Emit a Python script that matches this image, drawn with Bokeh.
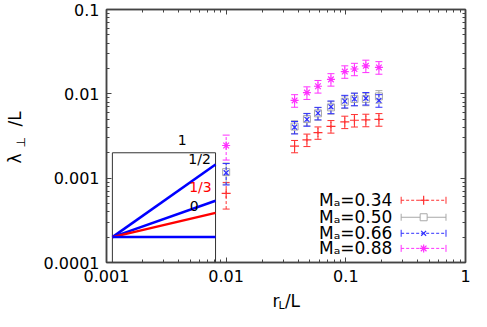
import math
from bokeh.plotting import figure
from bokeh.models import FixedTicker, LogAxis, Label, CustomJSTickFormatter
from bokeh.core.properties import value
from bokeh.embed import file_html
from bokeh.resources import INLINE

# ---------------- data ----------------
r_L = [0.0100, 0.0373, 0.0473, 0.0585, 0.0751, 0.098, 0.118, 0.147, 0.189]

lam_034 = [0.00066, 0.00240, 0.00285, 0.00347, 0.00412, 0.00465, 0.00486, 0.00490, 0.00498]
err_034 = [0.00023, 0.00040, 0.00048, 0.00058, 0.00070, 0.00078, 0.00082, 0.00083, 0.00085]

lam_050 = [0.00118, 0.00409, 0.00502, 0.00587, 0.00691, 0.00806, 0.00870, 0.00870, 0.00933]
err_050 = [0.00033, 0.00070, 0.00085, 0.00100, 0.00117, 0.00137, 0.00148, 0.00148, 0.00159]

lam_066 = [0.00116, 0.00402, 0.00498, 0.00591, 0.00702, 0.00820, 0.00870, 0.00886, 0.00835]
err_066 = [0.00033, 0.00068, 0.00085, 0.00100, 0.00120, 0.00140, 0.00148, 0.00150, 0.00142]

lam_088 = [0.00244, 0.00835, 0.01034, 0.01230, 0.01484, 0.01838, 0.01970, 0.02146, 0.02058]
err_088 = [0.00080, 0.00142, 0.00176, 0.00210, 0.00250, 0.00310, 0.00330, 0.00360, 0.00350]

series_labels = ["Mₐ=0.34", "Mₐ=0.50", "Mₐ=0.66", "Mₐ=0.88"]

x_ticks = [0.001, 0.01, 0.1, 1]
y_ticks = [0.0001, 0.001, 0.01, 0.1]

# inset (slope guide) data
inset_x = [0.00112, 0.00815]
inset_y0 = 0.0002
inset_top = 0.002
inset_slopes = [1.0, 0.5, 1.0 / 3.0, 0.0]
inset_colors = ["#0000ff", "#0000ff", "#ff0000", "#0000ff"]
inset_labels = ["1", "1/2", "1/3", "0"]
inset_label_x = [0.0043, 0.0060, 0.0061, 0.0054]
inset_label_y = [0.00285, 0.00167, 0.000785, 0.000469]
inset_label_colors = ["#000000", "#000000", "#ff0000", "#000000"]

FONT = "DejaVu Sans"
NBSP = "\u00a0"

p = figure(width=471, height=311, x_axis_type="log", y_axis_type="log",
           x_range=(0.001, 1), y_range=(0.0001, 0.1),
           output_backend="svg", toolbar_location=None,
           min_border_left=105, min_border_right=6, min_border_top=9, min_border_bottom=49)
p.grid.visible = False
p.outline_line_color = "#444444"
p.outline_line_width = 1.5
p.background_fill_color = "white"
p.border_fill_color = "white"

minor_x = [m * 10.0 ** e for e in range(-3, 0) for m in range(2, 10)]
minor_y = [m * 10.0 ** e for e in range(-4, -1) for m in range(2, 10)]
fmt = CustomJSTickFormatter(code="return tick.toString();")


def style_axis(ax, show_labels=True):
    ax.major_tick_in = 5
    ax.major_tick_out = 0
    ax.minor_tick_in = 3
    ax.minor_tick_out = 0
    ax.axis_line_color = "#444444"
    ax.axis_line_width = 1.5
    ax.major_tick_line_color = "#444444"
    ax.minor_tick_line_color = "#444444"
    ax.major_label_text_font = FONT
    if show_labels:
        ax.major_label_text_color = "#000000"
        ax.major_label_text_font_size = "16px"
    else:
        ax.major_label_text_color = None
        ax.major_label_text_font_size = "1px"
        ax.major_label_standoff = 0


xa = p.xaxis[0]
xa.ticker = FixedTicker(ticks=x_ticks, minor_ticks=minor_x)
xa.formatter = fmt
style_axis(xa)
xa.major_label_standoff = 7

ya = p.yaxis[0]
ya.ticker = FixedTicker(ticks=y_ticks, minor_ticks=minor_y)
ya.formatter = fmt
style_axis(ya)
ya.major_label_standoff = 7

top_ax = LogAxis(ticker=FixedTicker(ticks=x_ticks, minor_ticks=minor_x), formatter=fmt)
style_axis(top_ax, False)
p.add_layout(top_ax, "above")
right_ax = LogAxis(ticker=FixedTicker(ticks=y_ticks, minor_ticks=minor_y), formatter=fmt)
style_axis(right_ax, False)
p.add_layout(right_ax, "right")

# ---------------- inset ----------------
p.quad(left=[inset_x[0]], right=[inset_x[1]], bottom=[y_ticks[0]], top=[inset_top],
       fill_color=None, line_color="#333333", line_width=1)
for s, c in zip(inset_slopes, inset_colors):
    ys = [inset_y0, inset_y0 * (inset_x[1] / inset_x[0]) ** s]
    p.line(inset_x, ys, line_color=c, line_width=2.5)
p.text(x=inset_label_x, y=inset_label_y, text=inset_labels,
       text_color=inset_label_colors, text_font=value(FONT), text_font_size="14px",
       text_align="center", text_baseline="middle")

# ---------------- data series ----------------
series = [
    (lam_034, err_034, "#ff3030", "cross", "3 2", 9),
    (lam_050, err_050, "#a8a8a8", "square", "solid", 7),
    (lam_066, err_066, "#3030ff", "x", "3 2", 7),
    (lam_088, err_088, "#ff30ff", "asterisk", "3 2", 8),
]

for ys, es, col, mk, dash, sz in series:
    lo = [y - e for y, e in zip(ys, es)]
    hi = [y + e for y, e in zip(ys, es)]
    p.segment(x0=r_L, y0=lo, x1=r_L, y1=hi, line_color=col, line_width=1, line_dash=dash)
    p.scatter(x=r_L + r_L, y=lo + hi, marker="dash", size=7, line_color=col, line_width=1)
    if mk == "square":
        p.scatter(x=r_L, y=ys, marker=mk, size=sz, fill_color=None, line_color=col, line_width=1)
    else:
        p.scatter(x=r_L, y=ys, marker=mk, size=sz, line_color=col, fill_color=col, line_width=1.2)

# ---------------- legend (drawn in data space, bottom right) ----------------
leg_text_x = 0.245
leg_x = [0.29, 0.687]
leg_mid = 0.447
leg_y = [0.000547, 0.000344, 0.000222, 0.000147]
p.text(x=[leg_text_x] * 4, y=leg_y, text=series_labels, text_color="#000000",
       text_font=value(FONT), text_font_size="17px", text_align="right", text_baseline="middle")
for (ys, es, col, mk, dash, sz), ly in zip(series, leg_y):
    p.line(leg_x, [ly, ly], line_color=col, line_width=1, line_dash=dash)
    p.scatter(x=leg_x, y=[ly, ly], marker="dash", angle=math.pi / 2, size=7, line_color=col, line_width=1)
    if mk == "square":
        p.scatter(x=[leg_mid], y=[ly], marker=mk, size=sz, fill_color="white", line_color=col, line_width=1)
    else:
        p.scatter(x=[leg_mid], y=[ly], marker=mk, size=sz, line_color=col, fill_color=col, line_width=1.2)

# ---------------- axis titles (in side panels so they are not clipped) ----------------
lab = dict(x_units="screen", y_units="screen", text_font=FONT, text_color="#000000",
           text_baseline="alphabetic")
# x title: "r" + subscript "L" + "/L"
p.add_layout(Label(x=166, y=4, text="r" + NBSP + "/L", text_font_size="17px", **lab), "below")
# y title: "λ" + subscript "⊥" + " /L"
p.add_layout(Label(x=-6, y=99, text="λ" + NBSP * 5 + "/L", angle=math.pi / 2,
                   text_font_size="17px", **lab), "left")
p.add_layout(Label(x=14, y=115, text="⊥", angle=math.pi / 2, text_font_size="12px", **lab), "left")
# subscript of the x title (its panel sits on the left, the text is drawn below the frame)
p.add_layout(Label(x=278, y=-43, text="L", text_font_size="11px", **lab), "left")

open("out.html", "w").write(file_html(p, INLINE))
